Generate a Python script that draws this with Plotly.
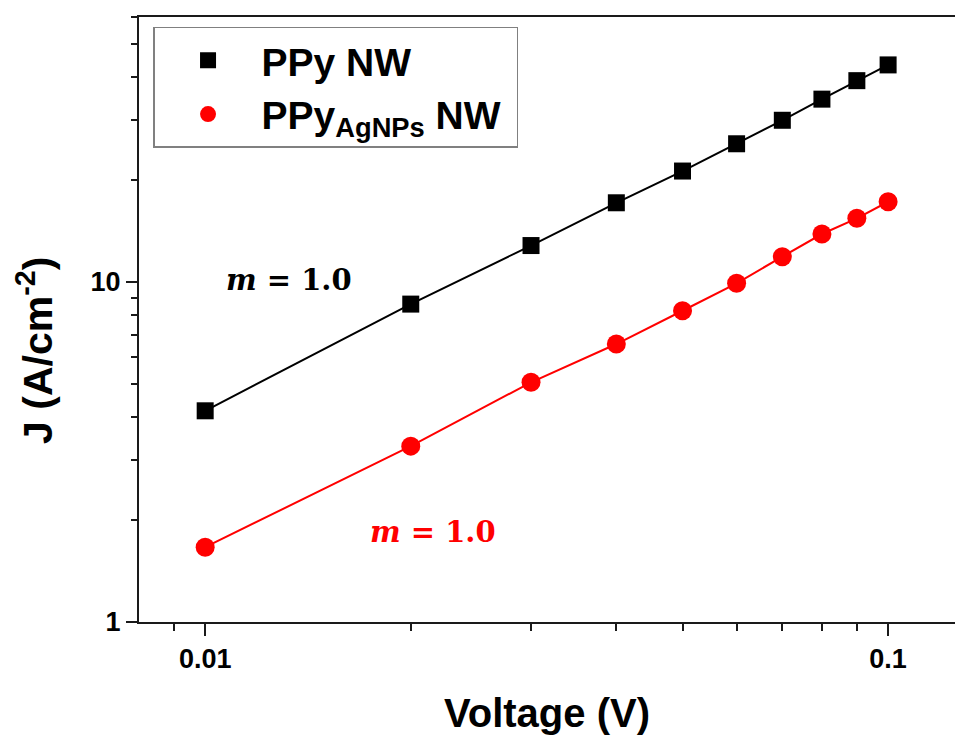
import math
import plotly.graph_objects as go

# ---- data ----
voltage = [0.01, 0.02, 0.03, 0.04, 0.05, 0.06, 0.07, 0.08, 0.09, 0.10]
j_ppy = [4.18, 8.61, 12.8, 17.1, 21.2, 25.5, 29.9, 34.5, 39.1, 43.5]
j_ppy_agnps = [1.66, 3.29, 5.07, 6.57, 8.23, 9.91, 11.87, 13.84, 15.39, 17.22]

series_names = ["<b>PPy NW</b>", "<b>PPy<sub>AgNPs</sub> NW</b>&#160;"]
slope_labels = ["<b><i>m</i> = 1.0</b>", "<b><i>m</i> = 1.0</b>"]

x_major = [0.01, 0.1]
x_major_text = ["0.01", "0.1"]
x_minor = [0.009, 0.02, 0.03, 0.04, 0.05, 0.06, 0.07, 0.08, 0.09]
y_major = [1, 10]
y_major_text = ["1", "10"]
y_minor = [2, 3, 4, 5, 6, 7, 8, 9, 20, 30, 40, 50, 60]

x_title = "<b>Voltage (V)</b>"
y_title = "<b>J (A/cm<sup>-2</sup>)</b>"

BLACK = "#000000"
RED = "#ff0000"
AXIS = "#1a1a1a"
FONT = "Liberation Sans"

fig = go.Figure()

# connecting lines (no legend entry)
fig.add_trace(go.Scatter(x=voltage, y=j_ppy, mode="lines",
                         line=dict(color=BLACK, width=2), showlegend=False,
                         hoverinfo="skip"))
fig.add_trace(go.Scatter(x=voltage, y=j_ppy_agnps, mode="lines",
                         line=dict(color=RED, width=2), showlegend=False,
                         hoverinfo="skip"))
# markers
fig.add_trace(go.Scatter(x=voltage, y=j_ppy, mode="markers", name=series_names[0],
                         marker=dict(symbol="square", size=17, color=BLACK,
                                     line=dict(width=0))))
fig.add_trace(go.Scatter(x=voltage, y=j_ppy_agnps, mode="markers", name=series_names[1],
                         marker=dict(symbol="circle", size=19, color=RED,
                                     line=dict(width=0))))

fig.update_layout(
    width=955, height=738,
    margin=dict(l=139, r=0, t=17, b=116),
    paper_bgcolor="white", plot_bgcolor="white",
    font=dict(family=FONT, color="black"),
    hovermode=False, dragmode=False,
    showlegend=True,
    legend=dict(
        x=0.0172, y=0.9835, xanchor="left", yanchor="top",
        font=dict(family=FONT, size=39, color="black"),
        bgcolor="white", bordercolor="#808080", borderwidth=1.5,
        itemwidth=97, itemsizing="trace", tracegroupgap=0,
    ),
    xaxis=dict(
        type="log",
        range=[math.log10(0.008), math.log10(0.1253)],
        tickmode="array", tickvals=x_major, ticktext=x_major_text,
        ticks="outside", ticklen=12, tickwidth=2, tickcolor=AXIS,
        tickfont=dict(family=FONT, size=27, color="black", weight="bold"),
        minor=dict(tickmode="array", tickvals=x_minor, ticks="outside",
                   ticklen=7, tickwidth=2, tickcolor=AXIS, showgrid=False),
        showline=True, linecolor=AXIS, linewidth=2, mirror=True,
        showgrid=False, zeroline=False, showspikes=False,
        title=dict(text=x_title, font=dict(family=FONT, size=40, color="black"),
                   standoff=26),
    ),
    yaxis=dict(
        type="log",
        range=[0, 1.7794],
        tickmode="array", tickvals=y_major, ticktext=y_major_text,
        ticks="outside", ticklen=11, tickwidth=2, tickcolor=AXIS,
        tickfont=dict(family=FONT, size=27, color="black", weight="bold"),
        minor=dict(tickmode="array", tickvals=y_minor, ticks="outside",
                   ticklen=6, tickwidth=2, tickcolor=AXIS, showgrid=False),
        showline=True, linecolor=AXIS, linewidth=2, mirror=False,
        showgrid=False, zeroline=False, showspikes=False,
    ),
)

# y-axis title (placed as rotated text, lower than centre like the reference)
fig.add_annotation(text=y_title, xref="paper", yref="paper",
                   x=-0.1275, y=0.4496, xanchor="center", yanchor="middle",
                   textangle=-90, showarrow=False,
                   font=dict(family=FONT, size=41, color="black"))

# slope labels
fig.add_annotation(text=slope_labels[0], x=-1.878, y=1.006, xref="x", yref="y",
                   showarrow=False, xanchor="center", yanchor="middle",
                   font=dict(family="DejaVu Serif", size=29, color=BLACK))
fig.add_annotation(text=slope_labels[1], x=-1.666, y=0.2647, xref="x", yref="y",
                   showarrow=False, xanchor="center", yanchor="middle",
                   font=dict(family="DejaVu Serif", size=29, color=RED))

fig.write_html(
    "out.html",
    config={"displayModeBar": False, "staticPlot": True},
    post_script="document.body.style.margin='0';document.body.style.overflow='hidden';",
)
